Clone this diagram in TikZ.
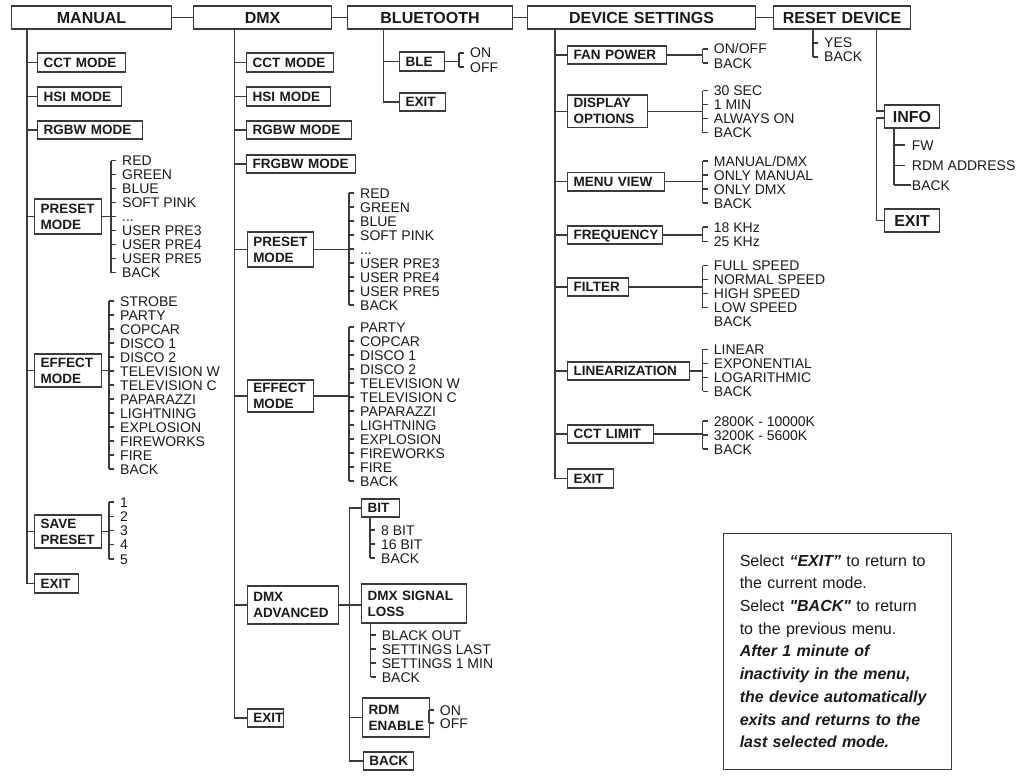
\documentclass[tikz,border=0pt]{standalone}
\usepackage{fontspec}
\setmainfont{Liberation Sans}
\newfontfamily\rawq{Liberation Sans}[Ligatures=ResetAll]
\definecolor{lncol}{HTML}{3A3A3A}
\definecolor{txtcol}{HTML}{1A1A1A}
\newcommand\mydots{...}
% #1 name, #2 xl, #3 xr, #4 yt, #5 yb, #6 text, #7 style
\newcommand\mkbox[7]{%
  \pgfmathsetmacro\tw{#3-#2-12}\pgfmathsetmacro\bh{#5-#4}\pgfmathsetmacro\yc{(#4+#5)/2}%
  \node[#7, text width=\tw pt, minimum height=\bh pt] (#1) at (#2,\yc) {#6};}
% #1 prefix, #2 bracket x, #3 top y, #4 first y, #5 spacing, #6 bottom y, #7 items
\newcommand\mklist[7]{%
  \coordinate (#1b) at (#2,#3);
  \draw[conn] (#2,#3) -- (#2,#6);
  \foreach \t [count=\i] in {#7}{%
    \pgfmathsetmacro\yy{#4+#5*(\i-1)}%
    \node[item] (#1\i) at ({#2+11},\yy) {\t};
    \draw[conn] (#2,\yy) -- ([xshift=-6pt]#1\i.west);
  }}
\begin{document}
\begin{tikzpicture}[x=1pt,y=-1pt,
  conn/.style={draw=lncol, line width=1.1pt},
  item/.style={anchor=west, inner sep=0pt, text height=10pt, text depth=0pt, text=txtcol, font=\fontsize{14}{14}\selectfont},
  bx/.style={draw=lncol, line width=1.1pt, anchor=west, inner xsep=6pt, inner ysep=0pt, align=left, text=txtcol, font=\bfseries\fontsize{13.5}{16}\selectfont},
  bx1/.style={bx, text height=9.7pt, text depth=0pt},
  hd/.style={bx, align=center, text height=11.5pt, text depth=0pt, font=\bfseries\fontsize{16}{18}\selectfont},
]
\fill[white] (0,0) rectangle (1024,776);
\useasboundingbox (0,0) rectangle (1024,776);

% ---------- headers ----------
\mkbox{manual}{11}{171}{6}{29}{MANUAL}{hd}
\mkbox{dmx}{193}{331}{6}{29}{DMX}{hd}
\mkbox{blue}{347}{512}{6}{29}{BLUETOOTH}{hd}
\mkbox{dev}{527}{755}{6}{29}{DEVICE SETTINGS}{hd}
\mkbox{reset}{773}{910}{6}{29}{RESET DEVICE}{hd}
\draw[conn] (manual.east) -- (dmx.west);
\draw[conn] (dmx.east) -- (blue.west);
\draw[conn] (blue.east) -- (dev.west);
\draw[conn] (dev.east) -- (reset.west);

% ---------- MANUAL ----------
\mkbox{mCct}{37}{125}{53}{72}{CCT MODE}{bx1}
\mkbox{mHsi}{37}{121}{87}{106}{HSI MODE}{bx1}
\mkbox{mRgb}{37}{142}{121}{139}{RGBW MODE}{bx1}
\mkbox{mPre}{34}{101}{199}{234}{PRESET\\MODE}{bx}
\mkbox{mEff}{34}{101}{354}{387}{EFFECT\\MODE}{bx}
\mkbox{mSav}{34}{101}{515}{548}{SAVE\\PRESET}{bx}
\mkbox{mExit}{34}{78}{574}{593}{EXIT}{bx1}
\coordinate (mt) at ([xshift=16pt]manual.south west);
\draw[conn] (mt) |- (mExit.west);
\foreach \n in {mCct,mHsi,mRgb,mPre,mEff,mSav} \draw[conn] (\n.west) -- (\n.west -| mt);
\mklist{mp}{111}{160.7}{160.7}{14}{272.7}{RED,GREEN,BLUE,SOFT PINK,\mydots,USER PRE3,USER PRE4,USER PRE5,BACK}
\mklist{me}{109}{301}{301}{14}{469}{STROBE,PARTY,COPCAR,DISCO 1,DISCO 2,TELEVISION W,TELEVISION C,PAPARAZZI,LIGHTNING,EXPLOSION,FIREWORKS,FIRE,BACK}
\mklist{ms}{109}{502}{502}{14.25}{559}{1,2,3,4,5}
\draw[conn] (mPre.east) -- (mPre.east -| mpb);
\draw[conn] (mEff.east) -- (mEff.east -| meb);
\draw[conn] (mSav.east) -- (mSav.east -| msb);

% ---------- DMX ----------
\mkbox{dCct}{246}{333}{53}{72}{CCT MODE}{bx1}
\mkbox{dHsi}{246}{330}{87}{106}{HSI MODE}{bx1}
\mkbox{dRgb}{246}{351}{121}{139}{RGBW MODE}{bx1}
\mkbox{dFrg}{246}{355}{155}{173}{FRGBW MODE}{bx1}
\mkbox{dPre}{246.7}{313}{232}{267}{PRESET\\MODE}{bx}
\mkbox{dEff}{246.7}{312.7}{380}{412}{EFFECT\\MODE}{bx}
\mkbox{dAdv}{246.7}{338}{586}{624}{DMX\\ADVANCED}{bx}
\mkbox{dExit}{246.7}{283}{709}{727}{EXIT}{bx1}
\coordinate (dt) at ([xshift=41.7pt]dmx.south west);
\draw[conn] (dt) |- (dExit.west);
\foreach \n in {dCct,dHsi,dRgb,dFrg,dPre,dEff,dAdv} \draw[conn] (\n.west) -- (\n.west -| dt);
\mklist{dp}{349}{193}{193}{14}{305}{RED,GREEN,BLUE,SOFT PINK,\mydots,USER PRE3,USER PRE4,USER PRE5,BACK}
\mklist{de}{349}{327}{327}{14}{481}{PARTY,COPCAR,DISCO 1,DISCO 2,TELEVISION W,TELEVISION C,PAPARAZZI,LIGHTNING,EXPLOSION,FIREWORKS,FIRE,BACK}
\draw[conn] (dPre.east) -- (dPre.east -| dpb);
\draw[conn] (dEff.east) -- (dEff.east -| deb);

% DMX advanced
\mkbox{aBit}{361}{399}{499}{517}{BIT}{bx1}
\mkbox{aLoss}{361}{465.7}{584}{623}{DMX SIGNAL\\LOSS}{bx}
\mkbox{aRdm}{362}{428.7}{698}{737}{RDM\\ENABLE}{bx}
\mkbox{aBack}{362.7}{413}{752}{770}{BACK}{bx1}
\coordinate (at) at (349.3,508);
\draw[conn] (aBit.west) -| (aBack.west -| at) -- (aBack.west);
\draw[conn] (dAdv.east) -- (dAdv.east -| aLoss.west);
\draw[conn] (aRdm.west) -- (aRdm.west -| at);
\mklist{ab}{370}{517}{530}{14}{558}{8 BIT,16 BIT,BACK}
\mklist{al}{370.7}{623}{635}{14}{677}{BLACK OUT,SETTINGS LAST,SETTINGS 1 MIN,BACK}
\mklist{ar}{428.7}{710}{710}{13}{723}{ON,OFF}

% ---------- BLUETOOTH ----------
\mkbox{bBle}{399}{444}{52}{71}{BLE}{bx1}
\mkbox{bExit}{399}{445}{93}{111}{EXIT}{bx1}
\coordinate (bt) at ([xshift=36.3pt]blue.south west);
\draw[conn] (bt) |- (bExit.west);
\draw[conn] (bBle.west) -- (bBle.west -| bt);
\mklist{bl}{459}{53}{53}{14}{67}{ON,OFF}
\draw[conn] (bBle.east) -- (bBle.east -| blb);

% ---------- DEVICE SETTINGS ----------
\mkbox{sFan}{567}{665.7}{46}{64}{FAN POWER}{bx1}
\mkbox{sDis}{567}{646.7}{95}{127.7}{DISPLAY\\OPTIONS}{bx}
\mkbox{sMen}{567}{664}{172.7}{191}{MENU VIEW}{bx1}
\mkbox{sFrq}{567}{661.7}{226}{244}{FREQUENCY}{bx1}
\mkbox{sFil}{567}{628}{278}{296}{FILTER}{bx1}
\mkbox{sLin}{567}{689}{362}{380}{LINEARIZATION}{bx1}
\mkbox{sCct}{567}{653}{425}{443}{CCT LIMIT}{bx1}
\mkbox{sExit}{567}{613}{469}{488}{EXIT}{bx1}
\coordinate (st) at ([xshift=28pt]dev.south west);
\draw[conn] (st) |- (sExit.west);
\foreach \n in {sFan,sDis,sMen,sFrq,sFil,sLin,sCct} \draw[conn] (\n.west) -- (\n.west -| st);
\mklist{sf}{702.7}{49}{49}{14}{63}{ON/OFF,BACK}
\mklist{sd}{702.7}{90.7}{90.7}{14}{132.7}{30 SEC,1 MIN,ALWAYS ON,BACK}
\mklist{sm}{702.7}{161}{161}{14}{203}{MANUAL/DMX,ONLY MANUAL,ONLY DMX,BACK}
\mklist{sq}{702.7}{227}{227}{14.5}{241.5}{18 KHz,25 KHz}
\mklist{sx}{702.7}{265.7}{265.7}{14}{307.7}{FULL SPEED,NORMAL SPEED,HIGH SPEED,LOW SPEED}
\node[item] (sx5) at (713.7,321.7) {BACK};
\mklist{sl}{702.7}{349.3}{349.3}{14}{391.3}{LINEAR,EXPONENTIAL,LOGARITHMIC,BACK}
\mklist{sc}{702.7}{421}{421}{14}{449}{2800K - 10000K,3200K - 5600K,BACK}
\draw[conn] (sFan.east) -- (sFan.east -| sfb);
\draw[conn] (sDis.east) -- (sDis.east -| sdb);
\draw[conn] (sMen.east) -- (sMen.east -| smb);
\draw[conn] (sFrq.east) -- (sFrq.east -| sqb);
\draw[conn] (sFil.east) -- (sFil.east -| sxb);
\draw[conn] (sLin.east) -- (sLin.east -| slb);
\draw[conn] (sCct.east) -- (sCct.east -| scb);

% ---------- RESET DEVICE ----------
\mklist{ry}{813}{29}{43}{14}{57}{YES,BACK}
\mkbox{rInfo}{884}{939}{105}{128}{INFO}{hd}
\mkbox{rExit}{884}{939}{209}{232}{EXIT}{hd}
\coordinate (rt) at ([xshift=103.7pt]reset.south west);
\draw[conn] (rt) |- ([yshift=5.5pt]rInfo.west);
\draw[conn] ([yshift=-1.5pt]rInfo.west) -| (rExit.west -| rt) -- (rExit.west);
\draw[conn] (894,128) -- (894,185);
\node[item] (ri1) at (911.7,145) {FW};
\node[item] (ri2) at (911.7,165.7) {RDM ADDRESS};
\node[item] (ri3) at (911.7,185) {BACK};
\draw[conn] (894,145) -- ([xshift=-7pt]ri1.west);
\draw[conn] (894,165.7) -- ([xshift=-7pt]ri2.west);
\draw[conn] (894,185) -- ([xshift=-1pt]ri3.west);

% ---------- note ----------
\node[draw=lncol, line width=0.8pt, anchor=north west, minimum width=228.3pt, minimum height=236.3pt,
  inner sep=0pt, text width=195pt, align=left, text=txtcol, font=\fontsize{16}{22.7}\selectfont] (note) at (722.7,532.7)
  {Select \textbf{\textit{“EXIT”}} to return to\\
   the current mode.\\
   Select {\rawq\bfseries\itshape "BACK"} to return\\
   to the previous menu.\\
   \bfseries\itshape After 1 minute of\\
   inactivity in the menu,\\
   the device automatically\\
   exits and returns to the\\
   last selected mode.};
\end{tikzpicture}
\end{document}
